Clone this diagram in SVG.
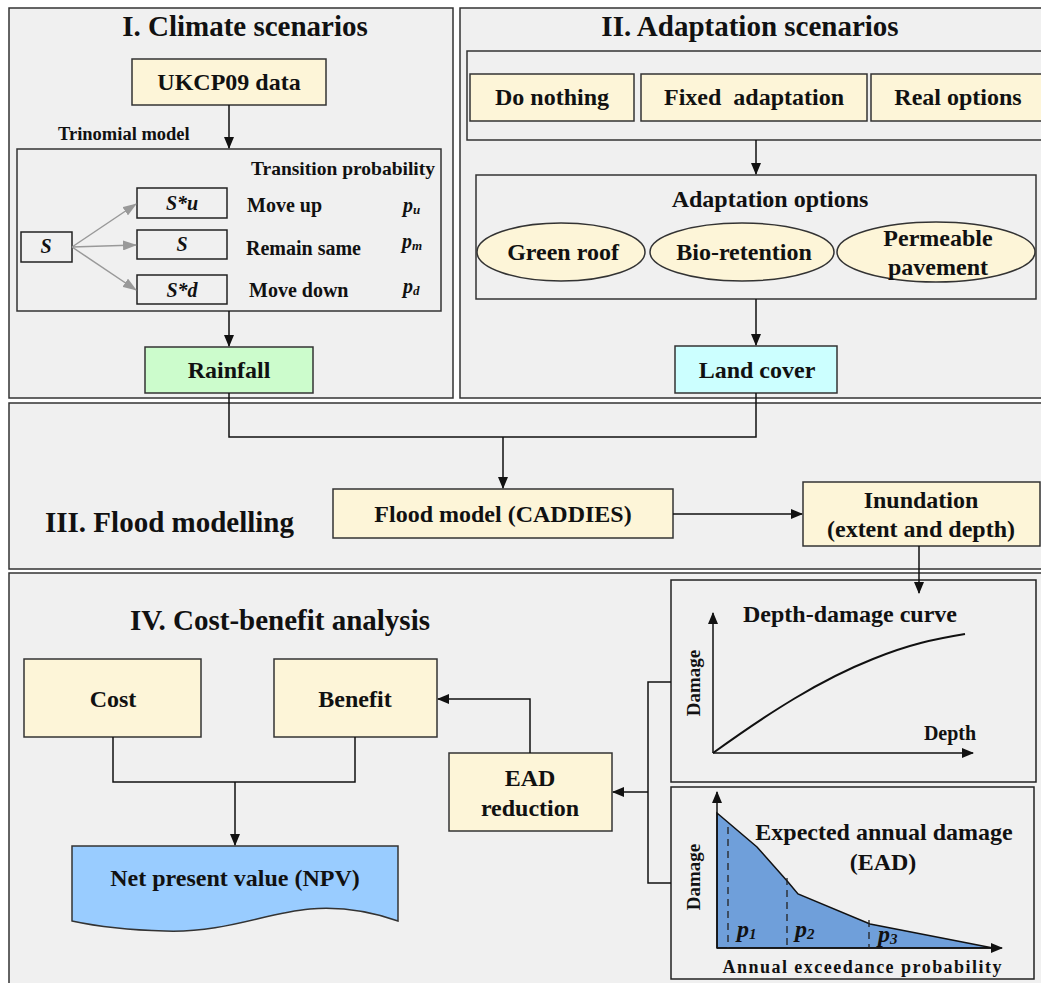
<svg xmlns="http://www.w3.org/2000/svg" width="1041" height="983" viewBox="0 0 1041 983">
<defs>
<style>
text{font-family:"Liberation Serif","Times New Roman",serif;font-weight:bold;fill:#111}
.panel{fill:#f0f0f0;stroke:#333;stroke-width:1.5}
.frame{fill:none;stroke:#333;stroke-width:1.5}
.box{fill:#fdf5d8;stroke:#333;stroke-width:1.5}
.wbox{fill:#f0f0f0;stroke:#222;stroke-width:1.5}
.line{fill:none;stroke:#111;stroke-width:1.5}
.gray{fill:none;stroke:#999;stroke-width:1.5}
.title{font-size:29px;text-anchor:middle}
.t24{font-size:24px;text-anchor:middle}
.t20{font-size:20px}
.it{font-style:italic}
.dash{stroke:#222;stroke-width:1.3;stroke-dasharray:7,5;fill:none}
</style>
<marker id="ah" markerWidth="12" markerHeight="10" refX="11" refY="5" orient="auto" markerUnits="userSpaceOnUse">
<path d="M0,0 L12,5 L0,10 Z" fill="#111"/>
</marker>
<marker id="ahg" markerWidth="14" markerHeight="10" refX="13" refY="5" orient="auto" markerUnits="userSpaceOnUse">
<path d="M0,0 L14,5 L0,10 Z" fill="#999"/>
</marker>
</defs>
<rect width="1041" height="983" fill="#ffffff"/>

<!-- Panels -->
<g id="panel-I">
<rect class="panel" x="9" y="8" width="444" height="390"/>
<text class="title" x="245" y="36">I. Climate scenarios</text>
</g>
<g id="panel-II">
<rect class="panel" x="460" y="8" width="595" height="390"/>
<text class="title" x="750" y="36">II. Adaptation scenarios</text>
</g>
<g id="panel-III">
<rect class="panel" x="9" y="403" width="1045" height="166"/>
<text x="45" y="532" style="font-size:29px">III. Flood modelling</text>
</g>
<g id="panel-IV">
<rect class="panel" x="9" y="573" width="1045" height="420"/>
<text class="title" x="280" y="630">IV. Cost-benefit analysis</text>
</g>

<!-- Panel I nodes -->
<g id="ukcp09">
<rect class="box" x="132" y="59" width="194" height="46"/>
<text class="t24" x="229" y="90">UKCP09 data</text>
</g>
<g id="trinomial">
<text x="58" y="140" style="font-size:18.5px">Trinomial model</text>
<rect class="frame" x="17" y="149" width="424" height="162"/>
<text x="435" y="175" style="font-size:19.5px;text-anchor:end">Transition probability</text>
</g>
<g id="node-S">
<rect class="wbox" x="21" y="232" width="51" height="30"/>
<text class="t20 it" x="46" y="253" text-anchor="middle">S</text>
</g>
<g id="node-Su">
<rect class="wbox" x="137" y="188" width="90" height="30"/>
<text class="t20 it" x="182" y="210" text-anchor="middle">S*u</text>
<text class="t20" x="247" y="212">Move up</text>
<text class="t20 it" x="403" y="212">p<tspan style="font-size:13px" dy="2">u</tspan></text>
</g>
<g id="node-Sm">
<rect class="wbox" x="137" y="230" width="90" height="29"/>
<text class="t20 it" x="182" y="251" text-anchor="middle">S</text>
<text class="t20" x="246" y="255">Remain same</text>
<text class="t20 it" x="402" y="248">p<tspan style="font-size:13px" dy="2">m</tspan></text>
</g>
<g id="node-Sd">
<rect class="wbox" x="137" y="275" width="90" height="29"/>
<text class="t20 it" x="182" y="297" text-anchor="middle">S*d</text>
<text class="t20" x="249" y="297">Move down</text>
<text class="t20 it" x="403" y="293">p<tspan style="font-size:13px" dy="2">d</tspan></text>
</g>
<g id="rainfall">
<rect x="145" y="347" width="168" height="46" fill="#ccfccc" stroke="#333" stroke-width="1.5"/>
<text class="t24" x="229" y="378">Rainfall</text>
</g>

<!-- Panel II nodes -->
<g id="scenarios">
<rect class="frame" x="467" y="51" width="590" height="89"/>
</g>
<g id="do-nothing">
<rect class="box" x="470" y="74" width="164" height="47"/>
<text class="t24" x="552" y="105">Do nothing</text>
</g>
<g id="fixed-adaptation">
<rect class="box" x="641" y="74" width="226" height="47"/>
<text class="t24" x="754" y="105" xml:space="preserve">Fixed  adaptation</text>
</g>
<g id="real-options">
<rect class="box" x="871" y="74" width="180" height="47"/>
<text class="t24" x="958" y="105">Real options</text>
</g>
<g id="adaptation-options">
<rect class="frame" x="476" y="175" width="560" height="124"/>
<text class="t24" x="770" y="207">Adaptation options</text>
</g>
<g id="green-roof">
<ellipse cx="561" cy="252" rx="84" ry="29" fill="#fdf5d8" stroke="#333" stroke-width="1.5"/>
<text class="t24" x="563" y="260">Green roof</text>
</g>
<g id="bio-retention">
<ellipse cx="742" cy="252" rx="92" ry="29" fill="#fdf5d8" stroke="#333" stroke-width="1.5"/>
<text class="t24" x="744" y="260">Bio-retention</text>
</g>
<g id="permeable-pavement">
<ellipse cx="936" cy="252" rx="99" ry="30" fill="#fdf5d8" stroke="#333" stroke-width="1.5"/>
<text class="t24" x="938" y="246">Permeable</text>
<text class="t24" x="938" y="275">pavement</text>
</g>
<g id="land-cover">
<rect x="675" y="346" width="162" height="47" fill="#ccffff" stroke="#333" stroke-width="1.5"/>
<text class="t24" x="757" y="378">Land cover</text>
</g>

<!-- Panel III nodes -->
<g id="flood-model">
<rect class="box" x="333" y="489" width="340" height="49"/>
<text class="t24" x="503" y="522">Flood model (CADDIES)</text>
</g>
<g id="inundation">
<rect class="box" x="803" y="482" width="237" height="64"/>
<text class="t24" x="921" y="508">Inundation</text>
<text class="t24" x="921" y="537">(extent and depth)</text>
</g>

<!-- Panel IV nodes -->
<g id="cost">
<rect class="box" x="24" y="659" width="177" height="78"/>
<text class="t24" x="113" y="707">Cost</text>
</g>
<g id="benefit">
<rect class="box" x="274" y="659" width="163" height="78"/>
<text class="t24" x="355" y="707">Benefit</text>
</g>
<g id="npv">
<path d="M72,846 H398 V921 C375,913 345,906 310,909 C265,913 225,933 165,931 C125,930 95,926 72,921 Z" fill="#99ccff" stroke="#333" stroke-width="1.5"/>
<text class="t24" x="235" y="886">Net present value (NPV)</text>
</g>
<g id="ead-reduction">
<rect class="box" x="449" y="753" width="163" height="78"/>
<text class="t24" x="530" y="786">EAD</text>
<text class="t24" x="530" y="816">reduction</text>
</g>
<g id="depth-damage">
<rect class="wbox" x="671" y="580" width="365" height="202"/>
<text class="t24" x="850" y="622">Depth-damage curve</text>
<line class="line" x1="713" y1="753" x2="713" y2="613" marker-end="url(#ah)"/>
<line class="line" x1="713" y1="753" x2="973" y2="753" marker-end="url(#ah)"/>
<path d="M713,753 C770,712 820,680 873,659 C910,644 935,639 965,634" fill="none" stroke="#111" stroke-width="2"/>
<text x="700" y="683" transform="rotate(-90 700 683)" style="font-size:19px;text-anchor:middle">Damage</text>
<text x="950" y="740" style="font-size:20px;text-anchor:middle">Depth</text>
</g>
<g id="ead-chart">
<rect class="wbox" x="671" y="787" width="363" height="192"/>
<path d="M717,813 L757,847 L788,882 L798,894 L870,924 L947,939 L993,948 L717,948 Z" fill="#6f9fda" stroke="#111" stroke-width="1.5"/>
<line class="line" x1="717" y1="948" x2="717" y2="792" marker-end="url(#ah)"/>
<line class="line" x1="717" y1="948" x2="1002" y2="948" marker-end="url(#ah)"/>
<line class="dash" x1="728" y1="827" x2="728" y2="948"/>
<line class="dash" x1="787" y1="878" x2="787" y2="948"/>
<line class="dash" x1="869" y1="920" x2="869" y2="948"/>
<text class="it" x="737" y="937" style="font-size:24px">p<tspan style="font-size:15px" dy="2">1</tspan></text>
<text class="it" x="795" y="937" style="font-size:24px">p<tspan style="font-size:15px" dy="2">2</tspan></text>
<text class="it" x="878" y="942" style="font-size:24px">p<tspan style="font-size:15px" dy="2">3</tspan></text>
<text class="t24" x="884" y="840">Expected annual damage</text>
<text class="t24" x="883" y="870">(EAD)</text>
<text x="700" y="877" transform="rotate(-90 700 877)" style="font-size:19px;text-anchor:middle">Damage</text>
<text x="862" y="973" textLength="279" lengthAdjust="spacing" style="font-size:18px;text-anchor:middle">Annual exceedance probability</text>
</g>

<!-- Connectors -->
<g id="connectors">
<line class="line" x1="229" y1="105" x2="229" y2="148" marker-end="url(#ah)"/>
<line class="line" x1="229" y1="311" x2="229" y2="346" marker-end="url(#ah)"/>
<line class="gray" x1="72" y1="247" x2="136" y2="204" marker-end="url(#ahg)"/>
<line class="gray" x1="72" y1="247" x2="136" y2="245" marker-end="url(#ahg)"/>
<line class="gray" x1="72" y1="247" x2="136" y2="290" marker-end="url(#ahg)"/>
<line class="line" x1="756" y1="140" x2="756" y2="174" marker-end="url(#ah)"/>
<line class="line" x1="756" y1="299" x2="756" y2="345" marker-end="url(#ah)"/>
<path class="line" d="M229,393 V437 H756 V393"/>
<line class="line" x1="503" y1="437" x2="503" y2="488" marker-end="url(#ah)"/>
<line class="line" x1="673" y1="514" x2="802" y2="514" marker-end="url(#ah)"/>
<line class="line" x1="919" y1="546" x2="919" y2="593" marker-end="url(#ah)"/>
<path class="line" d="M671,682 H648 V883 H671"/>
<line class="line" x1="648" y1="792" x2="613" y2="792" marker-end="url(#ah)"/>
<path class="line" d="M530,753 V699 H438" marker-end="url(#ah)"/>
<path class="line" d="M113,737 V782 H355 V737"/>
<line class="line" x1="235" y1="782" x2="235" y2="845" marker-end="url(#ah)"/>
</g>
</svg>
